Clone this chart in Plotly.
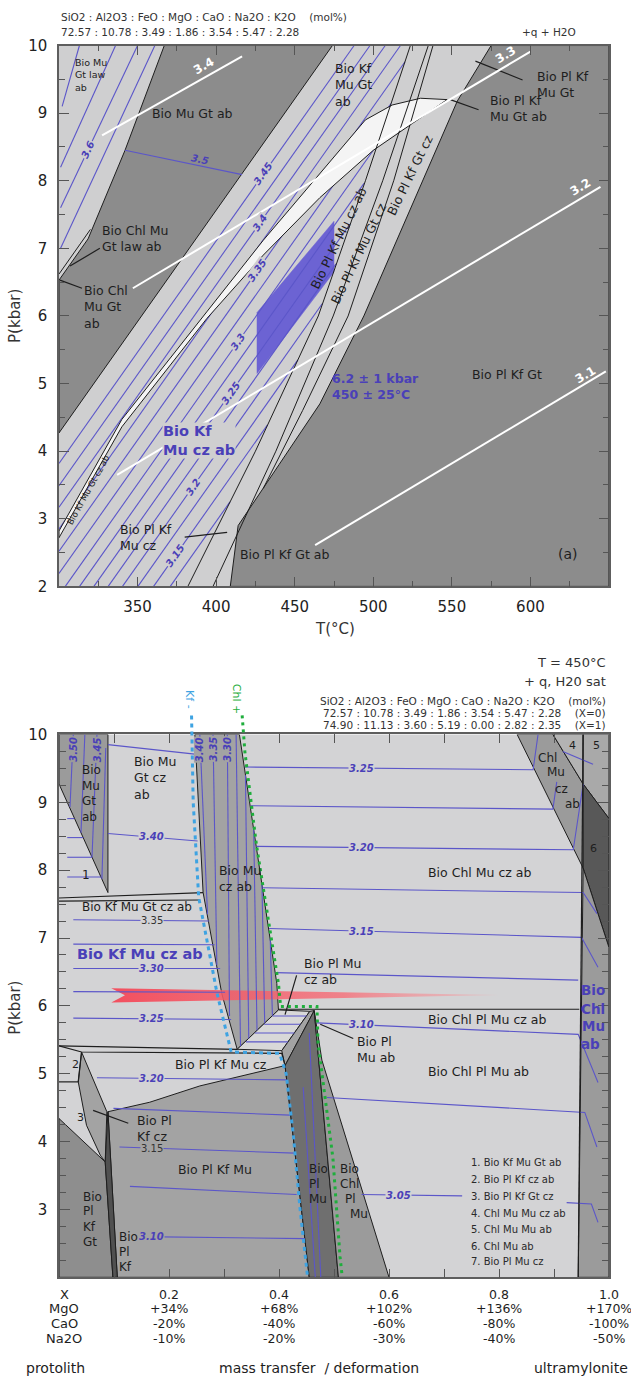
import plotly.graph_objects as go

W, H = 631, 1385
FONT = "DejaVu Sans"
INK = "#1e1e1e"
ISO = "#5b56c9"
ISO_TXT = "#4a40b8"

# ---------------------------------------------------------------
# Panel (a): P-T pseudosection, T in degC, P in kbar
# ---------------------------------------------------------------
A_T_RANGE = [300, 650]
A_P_RANGE = [2, 10]
A_T_TICKS = [350, 400, 450, 500, 550, 600]
A_T_MINOR = [325, 375, 425, 475, 525, 575, 625]
A_P_TICKS = [2, 3, 4, 5, 6, 7, 8, 9, 10]
A_P_MINOR = [2.5, 3.5, 4.5, 5.5, 6.5, 7.5, 8.5, 9.5]

A_LIGHT = "#cfcfd0"
A_DARK = "#8c8c8c"

A_FIELD_NW = [(300, 4.27), (362, 6.31), (416.5, 8.09), (474, 10), (367, 10),
              (342, 8.45), (318.5, 7.14), (300, 6.53)]
A_FIELD_SE = [(409, 2), (414, 2.9), (440, 3.8), (466, 4.7), (494, 6.0), (525, 7.65),
              (553.5, 9.18), (575, 10), (650, 10), (650, 2)]
A_LENS = [(300, 2.72), (340, 4.36), (394, 5.96), (430, 6.9), (466, 7.75), (500, 8.45),
          (525, 8.85), (547, 9.2), (530, 9.22), (512, 9.12), (495, 8.9), (466, 8.1),
          (430, 7.12), (394, 6.06), (340, 4.47), (300, 2.82)]
A_ESTIMATE = [(426, 5.15), (426, 6.05), (475, 7.4), (475, 6.65)]

A_BOUNDARIES = [
    [(382, 2), (425, 4.0), (465, 6.0), (495, 8.0), (523.6, 10)],
    [(398, 2), (438, 4.0), (474.5, 6.0), (506, 8.0), (535, 10)],
    [(430, 3.45), (455, 4.6), (484, 6.0), (513, 8.0), (538, 10)],
    [(300, 6.62), (320, 7.28)],
]
A_LEADERS = [
    [(595, 9.49), (565, 9.77)],
    [(567, 9.05), (549, 9.2)],
    [(326, 7.0), (307, 6.74)],
    [(314.6, 6.41), (300.6, 6.53)],
    [(380, 2.73), (407, 2.8)],
]
A_ISO_BLUE = [
    [(302, 9.1), (313, 10)], [(301, 8.2), (336, 10)], [(301, 7.6), (350, 10)],
    [(301, 7.0), (361, 10)],
    [(342, 8.45), (416.5, 8.09)],
    [(300, 3.82), (487.8, 10)], [(300, 3.49), (497.9, 10)], [(300, 3.17), (507.6, 10)],
    [(300, 2.85), (517.3, 10)], [(300, 2.52), (520.2, 9.76)], [(300, 2.19), (511.3, 9.14)],
    [(304, 2.0), (502.7, 8.54)], [(313.1, 2.0), (494.1, 7.96)], [(322.2, 2.0), (485.2, 7.36)],
    [(331.3, 2.0), (476.3, 6.77)], [(340.4, 2.0), (467.5, 6.18)], [(350.2, 2.0), (452, 5.35)],
    [(360.2, 2.0), (432.7, 4.39)], [(370.8, 2.0), (408.8, 3.25)],
]
A_ISO_BLUE_LABELS = [
    ("3.6", 318.5, 8.46, -65), ("3.5", 390, 8.32, 12),
    ("3.45", 430, 8.10, -55), ("3.4", 428, 7.38, -55), ("3.35", 426, 6.67, -55),
    ("3.3", 414, 5.62, -55), ("3.25", 409, 4.86, -55), ("3.2", 385, 3.47, -55),
    ("3.15", 374, 2.45, -55),
]
A_ISO_WHITE = [
    [(327.4, 8.67), (416.5, 9.84)],
    [(347, 6.41), (600, 9.91)],
    [(337, 3.65), (644.6, 7.91)],
    [(463, 2.61), (648, 5.18)],
]
A_ISO_WHITE_LABELS = [("3.4", 392, 9.70, -30), ("3.3", 584, 9.86, -31),
                      ("3.2", 632, 7.90, -31), ("3.1", 635, 5.12, -31)]

A_NAMES = [
    ("Bio Mu<br>Gt law<br>ab", 309, 9.56, 9.5, "left"),
    ("Bio Mu Gt ab", 384.7, 9.0, 12.5, "center"),
    ("Bio Kf<br>Mu Gt<br>ab", 474.5, 9.42, 12.5, "left"),
    ("Bio Pl Kf<br>Mu Gt", 603, 9.43, 12.5, "left"),
    ("Bio Pl Kf<br>Mu Gt ab", 573, 9.07, 12.5, "left"),
    ("Bio Chl Mu<br>Gt law ab", 326, 7.14, 12.5, "left"),
    ("Bio Chl<br>Mu Gt<br>ab", 314.6, 6.13, 12.5, "left"),
    ("Bio Pl Kf<br>Mu cz", 337.6, 2.73, 12.5, "left"),
    ("Bio Pl Kf Gt ab", 443.3, 2.47, 12.5, "center"),
    ("Bio Pl Kf Gt", 585, 5.14, 12.5, "center"),
    ("(a)", 623.6, 2.48, 14, "center"),
]
A_ROTATED_NAMES = [
    ("Bio Kf Mu Gt cz ab", 318.5, 3.43, 8.5, -61),
    ("Bio Pl Kf Mu cz ab", 477.7, 7.15, 12.5, -64),
    ("Bio Pl Kf Mu Gt cz", 490.5, 6.93, 12.5, -64),
    ("Bio Pl Kf Gt cz", 523.6, 8.09, 12.5, -64),
]

# ---------------------------------------------------------------
# Panel (b): P-X section at 450 degC, X = 0 (protolith) .. 1 (ultramylonite)
# ---------------------------------------------------------------
B_X_RANGE = [0, 1]
B_P_RANGE = [2, 10]
B_X_TICKS = [0.1, 0.2, 0.3, 0.4, 0.5, 0.6, 0.7, 0.8, 0.9]
B_P_TICKS = [3, 4, 5, 6, 7, 8, 9, 10]
B_P_MINOR = [2.25, 2.5, 2.75, 3.25, 3.5, 3.75, 4.25, 4.5, 4.75, 5.25, 5.5, 5.75,
             6.25, 6.5, 6.75, 7.25, 7.5, 7.75, 8.25, 8.5, 8.75, 9.25, 9.5, 9.75]

B_LIGHT = "#d3d3d5"
B_MED = "#a3a3a3"
B_MED2 = "#9b9b9b"
B_GT = "#8e8e8e"
B_DARK = "#6f6f6f"
B_DARKEST = "#505050"

B_FIELDS = [  # (vertices, fill)
    ([(0, 10), (0.089, 10), (0.089, 7.67), (0, 9.27)], B_MED2),
    ([(0.247, 10), (0.328, 10), (0.396, 6.33), (0.399, 5.94), (0.324, 5.36),
      (0.296, 6.18), (0.262, 7.67)], B_MED),
    ([(0.324, 5.36), (0.399, 5.94), (0.456, 5.92), (0.405, 5.34)], "#d8d8d8"),
    ([(0.405, 5.34), (0.456, 5.92), (0.464, 5.93), (0.411, 5.12)], B_MED),
    ([(0.089, 4.44), (0.165, 4.58), (0.256, 4.82), (0.347, 5.0), (0.411, 5.12),
      (0.455, 2.0), (0.106, 2.0)], B_MED),
    ([(0.411, 5.12), (0.464, 5.93), (0.508, 2.0), (0.455, 2.0)], B_DARK),
    ([(0.464, 5.93), (0.478, 5.2), (0.60, 2.0), (0.508, 2.0)], B_MED2),
    ([(0.041, 5.32), (0.087, 4.44), (0.084, 3.70), (0.075, 3.80), (0.05, 4.24),
      (0.035, 4.88)], B_MED),
    ([(0, 4.34), (0.084, 3.70), (0.098, 2.0), (0, 2.0)], B_GT),
    ([(0.084, 3.70), (0.089, 4.44), (0.106, 2.0), (0.098, 2.0)], B_DARKEST),
    ([(0.833, 10), (0.898, 10), (0.953, 9.27), (0.953, 8.03)], B_MED2),
    ([(0.898, 10), (0.953, 10), (0.953, 9.27)], "#b3b3b3"),
    ([(0.953, 10), (1, 10), (1, 8.76), (0.953, 9.27)], "#a9a9a9"),
    ([(0.953, 9.27), (1, 8.76), (1, 6.86), (0.953, 8.03)], "#585858"),
    ([(0.953, 8.03), (1, 6.86), (1, 2), (0.944, 2)], B_MED2),
]
B_BOUNDARIES = [
    [(0, 7.59), (0.262, 7.67)],
    [(0, 7.545), (0.256, 7.56)],
    [(0, 5.41), (0.324, 5.36)],
    [(0, 5.41), (0.041, 5.32), (0.405, 5.30), (0.411, 5.12)],
    [(0.041, 5.32), (0.035, 4.88)],
    [(0, 4.88), (0.035, 4.88)],
    [(0.399, 5.95), (0.946, 5.95)],
    [(0.953, 10), (0.944, 2)],
]
B_LEADERS = [
    [(0.432, 6.45), (0.411, 5.87)],
    [(0.126, 4.27), (0.062, 4.46)],
    [(0.535, 5.52), (0.475, 5.73)],
]
B_ISO = [
    # Bio Mu Gt ab
    [(0.026, 10), (0.02, 8.93)], [(0.047, 10), (0.04, 8.55)], [(0.069, 10), (0.06, 8.19)],
    [(0.085, 9.8), (0.078, 7.87)],
    # field 1
    [(0.015, 8.76), (0.028, 8.76)], [(0.015, 8.48), (0.044, 8.48)],
    [(0.015, 8.19), (0.060, 8.19)], [(0.015, 7.90), (0.076, 7.90)],
    # Bio Mu Gt cz ab
    [(0.089, 9.85), (0.247, 9.71)], [(0.089, 8.54), (0.252, 8.43)],
    # Bio Kf Mu cz ab
    [(0.026, 7.27), (0.273, 7.25)], [(0.026, 6.91), (0.283, 6.90)],
    [(0.026, 6.55), (0.293, 6.55)], [(0.026, 6.21), (0.302, 6.20)],
    [(0.026, 5.82), (0.313, 5.80)],
    # Bio Mu cz ab
    [(0.256, 10), (0.270, 7.35)], [(0.280, 10), (0.287, 6.6)], [(0.306, 10), (0.31, 5.85)],
    [(0.322, 10), (0.33, 5.41)], [(0.339, 9.4), (0.345, 5.52)], [(0.354, 8.6), (0.36, 5.64)],
    [(0.369, 7.8), (0.374, 5.75)], [(0.384, 7.0), (0.388, 5.86)],
    # Bio Pl Mu cz ab
    [(0.340, 5.47), (0.416, 5.47)], [(0.356, 5.60), (0.428, 5.60)],
    [(0.373, 5.73), (0.439, 5.73)], [(0.388, 5.85), (0.450, 5.85)],
    # Bio Pl Kf Mu (cz)
    [(0.069, 4.94), (0.414, 4.91)], [(0.099, 4.49), (0.42, 4.39)],
    [(0.11, 3.92), (0.429, 3.83)], [(0.129, 3.34), (0.432, 3.22)],
    [(0.147, 2.60), (0.447, 2.57)],
    # Bio Pl Mu
    [(0.455, 5.6), (0.476, 2.0)], [(0.444, 4.8), (0.466, 2.0)],
    # Bio Chl Mu cz ab and Bio Chl Pl Mu (cz) ab
    [(0.338, 9.52), (0.862, 9.48), (0.871, 10)],
    [(0.349, 8.95), (0.898, 8.90), (0.905, 9.3)],
    [(0.359, 8.35), (0.935, 8.30), (0.953, 9.27)],
    [(0.371, 7.74), (0.953, 7.67), (0.978, 7.36)],
    [(0.382, 7.14), (0.950, 7.01), (0.980, 6.57)],
    [(0.394, 6.49), (0.944, 6.38)],
    [(0.469, 5.75), (0.944, 5.58), (0.980, 4.87)],
    [(0.487, 4.65), (0.956, 4.43), (0.978, 3.92)],
    [(0.55, 3.22), (0.733, 3.20)],
    [(0.923, 3.10), (0.968, 3.08), (0.980, 2.81)],
    [(0.916, 9.75), (0.971, 9.56)],
]
B_ISO_LABELS = [  # text, X, P, angle, background, emphasised
    ("3.50", 0.026, 9.78, -90, B_MED2, True), ("3.45", 0.069, 9.78, -90, B_MED2, True),
    ("3.40", 0.256, 9.78, -90, B_MED, True), ("3.35", 0.280, 9.78, -90, B_MED, True),
    ("3.30", 0.306, 9.78, -90, B_MED, True),
    ("3.40", 0.169, 8.50, 0, B_LIGHT, True), ("3.35", 0.169, 7.26, 0, B_LIGHT, False),
    ("3.30", 0.169, 6.55, 0, B_LIGHT, True), ("3.25", 0.169, 5.81, 0, B_LIGHT, True),
    ("3.20", 0.169, 4.93, 0, B_LIGHT, True), ("3.15", 0.169, 3.90, 0, B_MED, False),
    ("3.10", 0.169, 2.60, 0, B_MED, True),
    ("3.25", 0.55, 9.50, 0, B_LIGHT, True), ("3.20", 0.55, 8.34, 0, B_LIGHT, True),
    ("3.15", 0.55, 7.09, 0, B_LIGHT, True), ("3.10", 0.55, 5.72, 0, B_LIGHT, True),
    ("3.05", 0.617, 3.21, 0, B_LIGHT, True),
]
B_KF_OUT = [(0.241, 10.28), (0.244, 9.0), (0.254, 7.6), (0.287, 6.2), (0.313, 5.32),
            (0.401, 5.30), (0.413, 5.0), (0.426, 4.1), (0.438, 3.03), (0.452, 2.0)]
B_CHL_IN = [(0.333, 10.28), (0.338, 9.74), (0.359, 8.37), (0.384, 7.06), (0.399, 6.33),
            (0.403, 5.99), (0.469, 5.99), (0.471, 5.45), (0.498, 3.76), (0.511, 2.3),
            (0.515, 2.0)]
B_STRAIN_BAND = [(0.095, 6.26), (0.80, 6.16), (0.095, 6.05), (0.12, 6.155)]

B_NAMES = [  # text, X, P, size, anchor
    ("Bio<br>Mu<br>Gt<br>ab", 0.038, 9.13, 12, "left"), ("1", 0.038, 7.93, 12, "left"),
    ("Bio Mu<br>Gt cz<br>ab", 0.133, 9.36, 12.5, "left"),
    ("Bio Kf Mu Gt cz ab", 0.142, 7.46, 12, "center"),
    ("Bio Mu<br>cz ab", 0.287, 7.88, 12.5, "left"),
    ("Bio Pl Mu<br>cz ab", 0.441, 6.5, 12.5, "left"),
    ("Bio Chl Mu cz ab", 0.765, 7.97, 12.5, "center"),
    ("Chl", 0.889, 9.66, 12, "center"), ("Mu", 0.904, 9.44, 12, "center"),
    ("cz", 0.914, 9.2, 12, "center"), ("ab", 0.934, 8.98, 12, "center"),
    ("4", 0.933, 9.83, 11, "center"), ("5", 0.978, 9.83, 11, "center"),
    ("6", 0.971, 8.32, 11, "center"),
    ("Bio Chl Pl Mu cz ab", 0.779, 5.80, 12.5, "center"),
    ("Bio Chl Pl Mu ab", 0.762, 5.04, 12.5, "center"),
    ("Bio Pl<br>Mu ab", 0.538, 5.36, 12.5, "left"),
    ("Bio Pl Kf Mu cz", 0.295, 5.14, 12.5, "center"),
    ("Bio Pl<br>Kf cz", 0.138, 4.20, 12.5, "left"),
    ("Bio Pl Kf Mu", 0.284, 3.59, 12.5, "center"),
    ("2", 0.02, 5.14, 11, "left"), ("3", 0.029, 4.36, 11, "left"),
    ("Bio", 0.04, 3.19, 12, "left"), ("Pl", 0.04, 2.97, 12, "left"),
    ("Kf", 0.04, 2.74, 12, "left"), ("Gt", 0.04, 2.52, 12, "left"),
    ("Bio", 0.105, 2.59, 12, "left"), ("Pl", 0.105, 2.37, 12, "left"),
    ("Kf", 0.105, 2.15, 12, "left"),
    ("Bio", 0.451, 3.59, 12, "left"), ("Pl", 0.451, 3.37, 12, "left"),
    ("Mu", 0.451, 3.15, 12, "left"),
    ("Bio", 0.507, 3.59, 12, "left"), ("Chl", 0.507, 3.37, 12, "left"),
    ("Pl", 0.516, 3.15, 12, "left"), ("Mu", 0.525, 2.93, 12, "left"),
]
B_BIG_NAMES = [("Bio Kf Mu cz ab", 0.147, 6.76), ("Bio", 0.971, 6.24), ("Chl", 0.971, 5.96),
               ("Mu", 0.971, 5.70), ("ab", 0.966, 5.44)]
B_KEY = ["1. Bio Kf Mu Gt ab", "2. Bio Pl Kf cz ab", "3. Bio Pl Kf Gt cz",
         "4. Chl Mu Mu cz ab", "5. Chl Mu Mu ab", "6. Chl Mu ab", "7. Bio Pl Mu cz"]
B_KEY_P = [3.69, 3.44, 3.19, 2.94, 2.70, 2.45, 2.23]

B_X_LABELS = [0.2, 0.4, 0.6, 0.8, 1.0]
B_MGO = ["+34%", "+68%", "+102%", "+136%", "+170%"]
B_CAO = ["-20%", "-40%", "-60%", "-80%", "-100%"]
B_NA2O = ["-10%", "-20%", "-30%", "-40%", "-50%"]

# ---------------------------------------------------------------
# frame geometry (pixels in the 631 x 1385 page)
# ---------------------------------------------------------------
XL, XR = 59, 609
A_TOP, A_BOT = 37, 585
B_TOP, B_BOT = 735, 1285
B_EXT_TOP = 700
px = lambda v: v / W
py = lambda v: 1 - v / H

fig = go.Figure()


def polygon(pts, fill, xa, ya, edge=INK, width=1.0):
    xs = [p[0] for p in pts] + [pts[0][0]]
    ys = [p[1] for p in pts] + [pts[0][1]]
    fig.add_trace(go.Scatter(x=xs, y=ys, mode="lines", fill="toself", fillcolor=fill,
                             line=dict(color=edge, width=width), hoverinfo="skip",
                             showlegend=False, xaxis=xa, yaxis=ya))


def polyline(pts, color, width, xa, ya, dash=None):
    fig.add_trace(go.Scatter(x=[p[0] for p in pts], y=[p[1] for p in pts], mode="lines",
                             line=dict(color=color, width=width, dash=dash),
                             hoverinfo="skip", showlegend=False, xaxis=xa, yaxis=ya))


annotations = []


def note(text, x, y, xref, yref, size, color=INK, angle=0, anchor="center", bg=None,
         bold=False, italic=False):
    if italic:
        text = "<i>" + text + "</i>"
    if bold:
        text = "<b>" + text + "</b>"
    d = dict(text=text, x=x, y=y, xref=xref, yref=yref, showarrow=False,
             font=dict(family=FONT, size=size, color=color), textangle=angle,
             xanchor=anchor, yanchor="middle", align="left" if anchor == "left" else "center")
    if bg:
        d.update(bgcolor=bg, borderpad=0)
    annotations.append(d)


# ---------------- panel (a) ----------------
polygon(A_FIELD_NW, A_DARK, "x", "y", width=1)
polygon(A_FIELD_SE, A_DARK, "x", "y", width=1)
polygon(A_ESTIMATE, "#6c63d3", "x", "y", edge="#6c63d3", width=0.5)
for seg in A_ISO_BLUE:
    polyline(seg, ISO, 1.1, "x", "y")
polygon(A_LENS, "#f4f4f4", "x", "y", width=1)
for seg in A_BOUNDARIES:
    polyline(seg, INK, 1.0, "x", "y")
for seg in A_LEADERS:
    polyline(seg, INK, 1.2, "x", "y")
for seg in A_ISO_WHITE:
    polyline(seg, "white", 2.0, "x", "y")

for t, x, y, a in A_ISO_BLUE_LABELS:
    bg = A_LIGHT if a < 0 else None
    note(t, x, y, "x", "y", 10, ISO_TXT, a, bg=bg, bold=True, italic=True)
for t, x, y, a in A_ISO_WHITE_LABELS:
    note(t, x, y, "x", "y", 12, "white", a, bold=True)
for t, x, y, s, anc in A_NAMES:
    note(t, x, y, "x", "y", s, anchor=anc)
for t, x, y, s, a in A_ROTATED_NAMES:
    note(t, x, y, "x", "y", s, angle=a)
note("Bio Kf<br>Mu cz ab", 365.6, 4.16, "x", "y", 14.5, ISO_TXT, anchor="left",
     bg=A_LIGHT, bold=True)
note("6.2 ± 1 kbar<br>450 ± 25°C", 472.6, 4.96, "x", "y", 12.5, ISO_TXT, anchor="left",
     bold=True)

# ---------------- panel (b) ----------------
for pts, fill in B_FIELDS:
    polygon(pts, fill, "x2", "y2", width=1)
fig.add_trace(go.Scatter(
    x=[p[0] for p in B_STRAIN_BAND] + [B_STRAIN_BAND[0][0]],
    y=[p[1] for p in B_STRAIN_BAND] + [B_STRAIN_BAND[0][1]],
    mode="lines", fill="toself", line=dict(width=0, color="rgba(0,0,0,0)"),
    fillgradient=dict(type="horizontal",
                      colorscale=[[0, "rgba(244,72,88,0.95)"], [0.6, "rgba(246,110,120,0.8)"],
                                  [1, "rgba(248,160,165,0.35)"]]),
    hoverinfo="skip", showlegend=False, xaxis="x2", yaxis="y2"))
for seg in B_ISO:
    polyline(seg, ISO, 1.1, "x2", "y2")
for seg in B_BOUNDARIES:
    polyline(seg, INK, 1.2, "x2", "y2")
for seg in B_LEADERS:
    polyline(seg, INK, 1.2, "x2", "y2")
polyline(B_KF_OUT, "#3ea3e2", 3, "x2", "y3", dash="4px,4px")
polyline(B_CHL_IN, "#1fae3c", 3, "x2", "y3", dash="3px,4px")

for t, x, y, a, bg, emph in B_ISO_LABELS:
    if emph:
        note(t, x, y, "x2", "y2", 10, ISO_TXT, a, bg=bg, bold=True, italic=True)
    else:
        note(t, x, y, "x2", "y2", 10, "#333333", a, bg=bg)
for t, x, y, s, anc in B_NAMES:
    note(t, x, y, "x2", "y2", s, anchor=anc)
for i, (t, x, y) in enumerate(B_BIG_NAMES):
    note(t, x, y, "x2", "y2", 14.5 if i == 0 else 13.5, ISO_TXT, bold=True)
for t, p in zip(B_KEY, B_KEY_P):
    note(t, 0.745, p, "x2", "y2", 10, "#2a2a2a", anchor="left")

note("Kf -", 0.236, py(700), "x2", "paper", 11, "#3ea3e2", 90)
note("Chl +", 0.322, py(699), "x2", "paper", 11, "#1fae3c", 90)

rows = [py(1302), py(1317), py(1332), py(1347)]
for name, y in zip(["X", "MgO", "CaO", "Na2O"], rows):
    note(name, px(64), y, "paper", "paper", 13)
for i, xv in enumerate(B_X_LABELS):
    for txt, y in zip([f"{xv:.1f}", B_MGO[i], B_CAO[i], B_NA2O[i]], rows):
        annotations.append(dict(text=txt, x=xv, y=y, xref="x2", yref="paper",
                                showarrow=False, font=dict(family=FONT, size=12.5, color=INK),
                                xanchor="center", yanchor="middle"))
note("protolith", px(55), py(1377), "paper", "paper", 14)
note("mass transfer  / deformation", px(319), py(1377), "paper", "paper", 14)
note("ultramylonite", px(630), py(1377), "paper", "paper", 14, anchor="right")

# headers
note("SiO2 : Al2O3 : FeO : MgO : CaO : Na2O : K2O    (mol%)", px(59), py(8), "paper",
     "paper", 10.5, "#333333", anchor="left")
note("72.57 : 10.78 : 3.49 : 1.86 : 3.54 : 5.47 : 2.28", px(59), py(23), "paper", "paper",
     10.5, "#333333", anchor="left")
note("+q + H2O", px(578), py(23), "paper", "paper", 10.5, "#333333", anchor="right")
note("T = 450°C", px(608), py(662), "paper", "paper", 13, "#333333", anchor="right")
note("+ q, H20 sat", px(608), py(681), "paper", "paper", 13, "#333333", anchor="right")
note("SiO2 : Al2O3 : FeO : MgO : CaO : Na2O : K2O    (mol%)", px(608), py(701), "paper",
     "paper", 10.5, "#333333", anchor="right")
note("72.57 : 10.78 : 3.49 : 1.86 : 3.54 : 5.47 : 2.28    (X=0)", px(608), py(713),
     "paper", "paper", 10.5, "#333333", anchor="right")
note("74.90 : 11.13 : 3.60 : 5.19 : 0.00 : 2.82 : 2.35    (X=1)", px(608), py(725),
     "paper", "paper", 10.5, "#333333", anchor="right")

# axis titles
note("P(kbar)", px(15), py(311), "paper", "paper", 15, "#333333", -90)
note("T(°C)", px(335), py(628), "paper", "paper", 15, "#333333")
note("P(kbar)", px(15), py(1012), "paper", "paper", 15, "#333333", -90)

AX = dict(showline=True, linecolor="#5e5e5e", linewidth=1.5, mirror="ticks", ticks="inside",
          tickcolor="#555555", tickwidth=1.2, showgrid=False, zeroline=False,
          tickfont=dict(family=FONT, size=15, color="#222222"))

fig.update_layout(
    width=W, height=H, margin=dict(l=0, r=0, t=0, b=0),
    paper_bgcolor="white", plot_bgcolor="rgba(0,0,0,0)", showlegend=False,
    xaxis=dict(AX, domain=[px(XL), px(XR)], range=A_T_RANGE, anchor="y",
               tickvals=A_T_TICKS, ticklen=10, ticklabelstandoff=6,
               minor=dict(tickvals=A_T_MINOR, ticks="inside", ticklen=6,
                          tickcolor="#555555")),
    yaxis=dict(AX, domain=[py(A_BOT), py(A_TOP)], range=A_P_RANGE, anchor="x",
               tickvals=A_P_TICKS, ticklen=10, ticklabelstandoff=7,
               minor=dict(tickvals=A_P_MINOR, ticks="inside", ticklen=6,
                          tickcolor="#555555")),
    xaxis2=dict(AX, domain=[px(XL), px(XR)], range=B_X_RANGE, anchor="y2",
                tickvals=B_X_TICKS, ticklen=9, showticklabels=False),
    yaxis2=dict(AX, domain=[py(B_BOT), py(B_TOP)], range=B_P_RANGE, anchor="x2",
                tickvals=B_P_TICKS, ticklen=11, ticklabelstandoff=7,
                minor=dict(tickvals=B_P_MINOR, ticks="inside", ticklen=7,
                           tickcolor="#555555")),
    yaxis3=dict(domain=[py(B_BOT), py(B_EXT_TOP)],
                range=[B_P_RANGE[0], B_P_RANGE[0] + (B_BOT - B_EXT_TOP) * 8 / (B_BOT - B_TOP)],
                anchor="x2", visible=False),
    shapes=[
        dict(type="rect", xref="x domain", yref="y domain", x0=0, x1=1, y0=0, y1=1,
             fillcolor=A_LIGHT, line=dict(width=0), layer="below"),
        dict(type="rect", xref="x2 domain", yref="y2 domain", x0=0, x1=1, y0=0, y1=1,
             fillcolor=B_LIGHT, line=dict(width=0), layer="below"),
    ],
    annotations=annotations,
)

fig.write_html("out.html")
